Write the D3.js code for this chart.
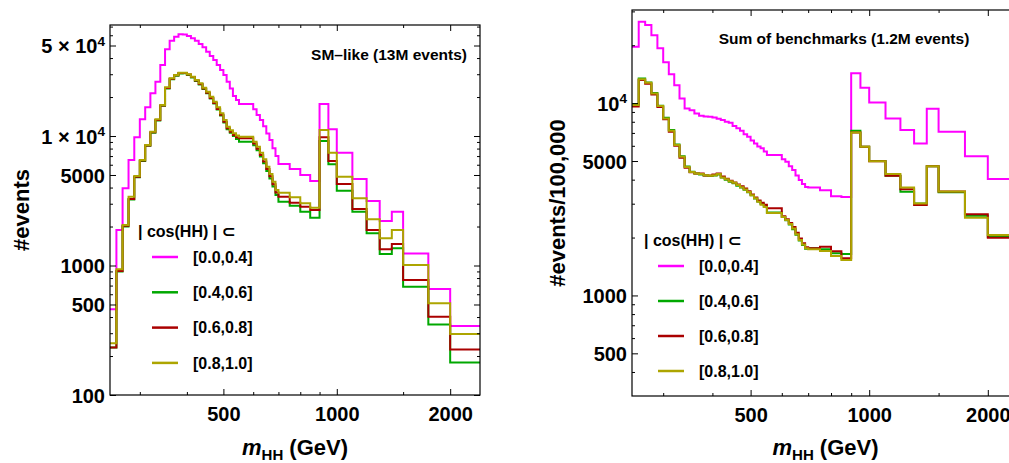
<!DOCTYPE html>
<html><head><meta charset="utf-8">
<script src="https://cdn.jsdelivr.net/npm/d3@7"></script>
<style>
body{margin:0;background:#fff}
text{font-family:"Liberation Sans",Arial,sans-serif;font-weight:bold;fill:#000}
</style>
</head><body>
<svg id="c" width="1009" height="463"></svg>
<script>
// ---- data ----
const binEdges = [250,260,270,280,290,300,310,320,330,340,350,360,370,380,390,400,410,420,430,440,450,460,470,480,490,500,510,520,530,540,550,
  600,612.5,625,637.5,650,662.5,675,687.5,700,750,800,850,900,950,1000,1100,1200,1300,1400,1500,1750,2000,2400];
const legendLabels = ["[0.0,0.4]","[0.4,0.6]","[0.6,0.8]","[0.8,1.0]"];
const legendTitle = "| cos(HH) |  \u2282";
const xMajorTicks = [500,1000,2000];
const xMinorTicks = [300,400,600,700,800,900,1500];

// SM-like panel
const smPink  = [459,1880,3945,6530,9770,13450,16650,21370,26250,35330,46700,54460,58480,61000,60800,59200,56800,54500,51300,48400,44800,41500,38600,35300,32300,29600,26300,23300,20400,19000,17700,16100,14500,13300,11900,10450,9310,8040,7010,6080,5560,5000,4490,17660,11270,7430,4650,3150,2210,2600,1240,658,341];
const smGreen = [233,900,2000,3230,4800,6420,8400,10600,13200,17100,23300,27500,29200,30400,30500,29600,28300,26600,25000,23100,21400,19500,17800,16000,14400,12700,11300,10600,10000,9500,9050,8500,7750,6950,6150,5380,4700,4080,3500,3110,2896,2603,2339,9150,6047,3782,2603,1773,1227,1358,686,351,178];
const smRed   = [233,907,2030,3260,4850,6480,8450,10700,13300,17200,23500,27700,29400,30600,30700,29800,28500,26800,25200,23300,21600,19700,18000,16200,14600,12900,11500,10800,10200,9800,9590,8750,7980,7150,6350,5570,4880,4250,3670,3400,3055,2845,2683,9772,6410,4257,2730,1880,1334,1466,773,402,225];
const smOlive = [251,934,2054,3400,4910,6530,8520,10800,13450,17340,23770,27900,29600,30820,30820,29960,28700,27060,25500,23600,21980,20120,18400,16650,14970,13300,11800,11100,10500,10100,9880,9040,8260,7430,6610,5800,5090,4440,3830,3650,3363,3022,2795,11120,7430,4850,3304,2274,1622,1880,1009,511,296];
const smYMajor = [100,500,1000,5000,10000,50000];
const smYMinor = [200,300,400,600,700,800,900,2000,3000,4000,6000,7000,8000,9000,20000,30000,40000,60000,70000];
const smYLabels = ["100","500","1000","5000","1 \u00d7 10^4","5 \u00d7 10^4"];

// Sum of benchmarks panel
const bmPink  = [19630,26470,25450,22560,19280,16330,14140,12390,10570,9370,9180,8820,8600,8530,8500,8430,8300,8160,8000,7900,7600,7400,7180,6900,6680,6400,6170,5950,5820,5600,5370,5100,4950,4700,4490,4200,3980,3800,3660,3640,3520,3275,3250,14300,12010,10080,8330,7240,6170,9340,7090,5300,4030];
const bmGreen = [9900,13450,12800,11300,9700,8400,7250,6100,5300,4680,4400,4300,4250,4200,4180,4200,4250,4100,4000,3900,3830,3720,3640,3540,3440,3320,3190,3080,2990,2900,2700,2560,2460,2340,2210,2070,1930,1830,1750,1760,1740,1655,1641,7180,5930,5000,4190,3460,3011,4700,3440,2595,2020];
const bmRed   = [9600,13200,12600,11100,9550,8250,7100,6000,5200,4620,4370,4300,4300,4200,4210,4250,4300,4150,4050,3950,3870,3780,3700,3600,3480,3350,3230,3120,3030,2960,2840,2580,2490,2380,2270,2120,1980,1870,1780,1760,1790,1700,1560,7040,5930,4990,4190,3561,2950,4700,3476,2640,1995];
const bmOlive = [9770,13330,12750,11230,9650,8330,7180,6050,5260,4660,4390,4310,4280,4220,4190,4220,4280,4110,4020,3920,3850,3750,3650,3560,3450,3320,3200,3070,2960,2880,2680,2560,2470,2350,2230,2080,1940,1840,1757,1740,1701,1603,1527,7040,5930,4990,4280,3646,3011,4700,3476,2535,2060];
const bmYMajor = [500,1000,5000,10000];
const bmYMinor = [400,600,700,800,900,2000,3000,4000,6000,7000,8000,9000,20000,30000];
const bmYLabels = ["500","1000","5000","10^4"];

const seriesColors = ["#FF00FF","#00A800","#AA0000","#ADA500"];

// ---- drawing ----
const svg = d3.select("#c");

function setLabel(sel, str){
  sel.text(null);
  const parts = str.split("^");
  sel.append("tspan").text(parts[0]);
  if(parts.length>1){
    sel.append("tspan").attr("dy","-0.55em").attr("font-size","0.68em").text(parts[1]);
  }
}

function drawPanel(cfg){
  const x = d3.scaleLog().domain([250,2400]).range([cfg.x0,cfg.x1]);
  const y = d3.scaleLog().domain(cfg.yDom).range([cfg.y1,cfg.y0]);
  const g = svg.append("g");
  const clipId = "clip"+cfg.id;
  svg.append("clipPath").attr("id",clipId).append("rect")
    .attr("x",cfg.x0).attr("y",cfg.y0).attr("width",cfg.x1-cfg.x0).attr("height",cfg.y1-cfg.y0);

  const line = d3.line().x(d=>x(d[0])).y(d=>y(d[1])).curve(d3.curveStepAfter);
  cfg.series.forEach((vals,i)=>{
    const pts = vals.map((v,j)=>[binEdges[j],v]);
    pts.push([binEdges[binEdges.length-1], vals[vals.length-1]]);
    g.append("path").attr("d",line(pts)).attr("fill","none")
      .attr("stroke",seriesColors[i]).attr("stroke-width",2)
      .attr("stroke-linejoin","miter").attr("clip-path",`url(#${clipId})`);
  });

  const mk = (axis, tr) => {
    const a = g.append("g").attr("transform",tr).call(axis);
    a.select(".domain").remove();
    a.selectAll("line").attr("stroke","#000").attr("stroke-width",1);
    return a;
  };
  mk(d3.axisBottom(x).tickValues(xMinorTicks).tickSize(-3).tickFormat(""), `translate(0,${cfg.y1})`);
  mk(d3.axisTop(x).tickValues(xMinorTicks).tickSize(-3).tickFormat(""), `translate(0,${cfg.y0})`);
  mk(d3.axisTop(x).tickValues(xMajorTicks).tickSize(-6).tickFormat(""), `translate(0,${cfg.y0})`);
  const xb = mk(d3.axisBottom(x).tickValues(xMajorTicks).tickSize(-6).tickPadding(12).tickFormat(d3.format("d")), `translate(0,${cfg.y1})`);
  xb.selectAll("text").attr("font-size",20).attr("font-family","Liberation Sans, Arial, sans-serif").attr("font-weight","bold").attr("fill","#000");

  mk(d3.axisLeft(y).tickValues(cfg.yMinor).tickSize(-3).tickFormat(""), `translate(${cfg.x0},0)`);
  mk(d3.axisRight(y).tickValues(cfg.yMinor).tickSize(-3).tickFormat(""), `translate(${cfg.x1},0)`);
  mk(d3.axisRight(y).tickValues(cfg.yMajor).tickSize(-6).tickFormat(""), `translate(${cfg.x1},0)`);
  const yl = mk(d3.axisLeft(y).tickValues(cfg.yMajor).tickSize(-6).tickPadding(5)
      .tickFormat((d,i)=>cfg.yLabels[i]), `translate(${cfg.x0},0)`);
  yl.selectAll("text").attr("font-size",20).attr("font-family","Liberation Sans, Arial, sans-serif")
    .attr("font-weight","bold").attr("fill","#000").attr("dy","0.36em")
    .each(function(d,i){ setLabel(d3.select(this), cfg.yLabels[i]); });

  g.append("rect").attr("x",cfg.x0).attr("y",cfg.y0).attr("width",cfg.x1-cfg.x0).attr("height",cfg.y1-cfg.y0)
    .attr("fill","none").attr("stroke","#000").attr("stroke-width",1.2);

  const xt = g.append("text").attr("x",(cfg.x0+cfg.x1)/2).attr("y",455).attr("text-anchor","middle").attr("font-size",22);
  xt.append("tspan").attr("font-style","italic").text("m");
  xt.append("tspan").attr("font-size",15).attr("dy",5).text("HH");
  xt.append("tspan").attr("dy",-5).text(" (GeV)");
  g.append("text").attr("transform",`translate(${cfg.ytx},${(cfg.y0+cfg.y1)/2}) rotate(-90)`)
    .attr("text-anchor","middle").attr("font-size",22).attr("dy","0.36em").text(cfg.yTitle);

  g.append("text").attr("x",cfg.annX).attr("y",cfg.annY).attr("text-anchor",cfg.annAnchor)
    .attr("font-size",15.5).attr("dy","0.36em").text(cfg.ann);

  g.append("text").attr("x",cfg.legX).attr("y",cfg.legY).attr("font-size",16).attr("dy","0.36em").text(legendTitle);
  legendLabels.forEach((lab,i)=>{
    const yy = cfg.legY + 26 + i*cfg.legStep;
    g.append("line").attr("x1",cfg.legX+14).attr("x2",cfg.legX+40).attr("y1",yy).attr("y2",yy)
      .attr("stroke",seriesColors[i]).attr("stroke-width",2.5);
    g.append("text").attr("x",cfg.legX+55).attr("y",yy).attr("dy","0.36em").attr("font-size",16).text(lab);
  });
}

drawPanel({id:"sm", x0:110, x1:480, y0:25, y1:395, yDom:[100,72000],
  series:[smPink,smGreen,smRed,smOlive], yMajor:smYMajor, yMinor:smYMinor, yLabels:smYLabels,
  yTitle:"#events", ytx:21, ann:"SM\u2013like (13M events)", annX:467, annY:54, annAnchor:"end",
  legX:138, legY:231, legStep:35.3});
drawPanel({id:"bm", x0:632, x1:1019, y0:10, y1:396, yDom:[300,30500],
  series:[bmPink,bmGreen,bmRed,bmOlive], yMajor:bmYMajor, yMinor:bmYMinor, yLabels:bmYLabels,
  yTitle:"#events/100,000", ytx:557, ann:"Sum of benchmarks (1.2M events)", annX:844, annY:38, annAnchor:"middle",
  legX:644, legY:240, legStep:35});
</script>
</body></html>
